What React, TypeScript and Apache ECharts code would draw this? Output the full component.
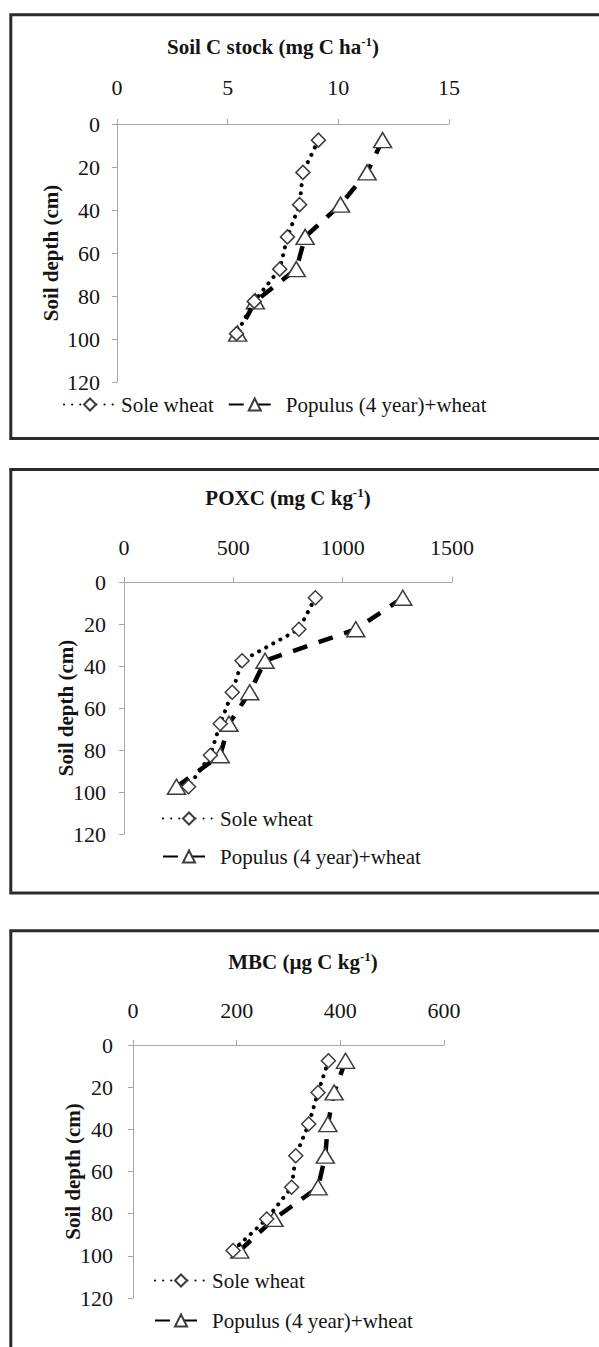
import React, { useEffect, useRef } from "react";
import * as echarts from "echarts";

// Depth midpoints (cm)
const depths = [7.5, 22.5, 37.5, 52.5, 67.5, 82.5, 97.5];
const depthTicks = [0, 20, 40, 60, 80, 100, 120];

// Panel 1: Soil C stock (mg C ha-1)
const soleStock = [9.1, 8.4, 8.25, 7.7, 7.35, 6.2, 5.4];
const popStock = [12.0, 11.3, 10.1, 8.5, 8.1, 6.25, 5.45];
const stockTicks = [0, 5, 10, 15];

// Panel 2: POXC (mg C kg-1)
const solePOXC = [875, 800, 540, 495, 440, 395, 295];
const popPOXC = [1275, 1060, 645, 575, 480, 440, 240];
const poxcTicks = [0, 500, 1000, 1500];

// Panel 3: MBC (µg C kg-1)
const soleMBC = [377, 357, 339, 314, 306, 258, 193];
const popMBC = [410, 388, 376, 371, 357, 272, 206];
const mbcTicks = [0, 200, 400, 600];

const seriesNames = ["Sole wheat", "Populus (4 year)+wheat"];

const FONT = "Liberation Serif";
const AXIS_GRAY = "#a6a6a6";
const TXT = "#141414";

const pairs = (xs: number[]) => xs.map((v, i) => [v, depths[i]]);

export default function App() {
  const ref = useRef<HTMLDivElement>(null);
  useEffect(() => {
    document.body.style.margin = "0";
    if (!ref.current) return;
    const chart = echarts.init(ref.current, undefined, { renderer: "svg" });

    const grids = [
      { left: 117, top: 124, width: 332, height: 258 },
      { left: 124, top: 582, width: 328, height: 252 },
      { left: 133, top: 1045, width: 311, height: 253 },
    ];
    const xTicks = [stockTicks, poxcTicks, mbcTicks];
    const yLabelMargins = [17, 18, 20];
    const nameGaps = [56, 48, 50];
    const xLabelMargins = [26, 24, 24];

    const labelText = { fontFamily: FONT, fontSize: 22, color: TXT, fontWeight: "normal" };

    const xAxes = xTicks.map((t, i) => ({
      type: "value",
      gridIndex: i,
      position: "top",
      min: t[0],
      max: t[t.length - 1],
      interval: t[1] - t[0],
      axisLine: { show: true, lineStyle: { color: AXIS_GRAY, width: 1 } },
      axisTick: { show: true, inside: false, length: 5, lineStyle: { color: AXIS_GRAY } },
      splitLine: { show: false },
      axisLabel: { margin: xLabelMargins[i], ...labelText, formatter: (v: number) => String(v) },
    }));

    const yAxes = [0, 1, 2].map((i) => ({
      type: "value",
      gridIndex: i,
      inverse: true,
      min: depthTicks[0],
      max: depthTicks[depthTicks.length - 1],
      interval: depthTicks[1] - depthTicks[0],
      name: "Soil depth (cm)",
      nameLocation: "middle",
      nameRotate: 90,
      nameGap: nameGaps[i],
      nameMoveOverlap: false,
      nameTextStyle: { fontFamily: FONT, fontSize: 21, fontWeight: "bold", color: TXT },
      axisLine: { show: true, lineStyle: { color: AXIS_GRAY, width: 1 } },
      axisTick: { show: true, inside: false, length: 5, lineStyle: { color: AXIS_GRAY } },
      splitLine: { show: false },
      axisLabel: { margin: yLabelMargins[i], ...labelText, formatter: (v: number) => String(v) },
    }));

    const soleStyle = {
      type: "line",
      name: seriesNames[0],
      symbol: "diamond",
      symbolSize: 14,
      lineStyle: { color: "#000", width: 4, type: [0.1, 8], cap: "round" },
      itemStyle: { color: "#fff", borderColor: "#3c3c3c", borderWidth: 1.5 },
      z: 3,
    };
    const popStyle = {
      type: "line",
      name: seriesNames[1],
      symbol: "triangle",
      symbolSize: [18, 15],
      lineStyle: { color: "#000", width: 4.5, type: [15, 12], cap: "butt" },
      itemStyle: { color: "#fff", borderColor: "#3c3c3c", borderWidth: 1.5 },
      z: 2,
    };
    const soles = [soleStock, solePOXC, soleMBC];
    const pops = [popStock, popPOXC, popMBC];
    const series: any[] = [];
    [0, 1, 2].forEach((i) => {
      series.push({ ...soleStyle, xAxisIndex: i, yAxisIndex: i, data: pairs(soles[i]) });
      series.push({ ...popStyle, xAxisIndex: i, yAxisIndex: i, data: pairs(pops[i]) });
    });

    const titleRich = {
      sup: { fontFamily: FONT, fontSize: 13, fontWeight: "bold", color: TXT, verticalAlign: "top", lineHeight: 24 },
    };
    const mkTitle = (text: string, cx: number, cy: number) => ({
      text,
      left: cx,
      top: cy - 12,
      textAlign: "center",
      padding: 0,
      textStyle: { fontFamily: FONT, fontSize: 21, fontWeight: "bold", color: TXT, lineHeight: 24, rich: titleRich },
    });

    const legendCommon = {
      data: seriesNames,
      itemWidth: 52,
      itemHeight: 15,
      textStyle: { ...labelText, fontSize: 21, padding: [2, 0, 0, 0] },
      selectedMode: false,
      padding: 0,
    };

    const border = (y1: number, y2: number) => ({
      type: "polyline",
      shape: { points: [[700, y1], [10.8, y1], [10.8, y2], [700, y2]] },
      style: { stroke: "#2b2b2b", lineWidth: 3, fill: null },
      silent: true,
    });

    chart.setOption({
      animation: false,
      backgroundColor: "#fff",
      textStyle: { fontFamily: FONT },
      title: [
        mkTitle("Soil C stock (mg C ha{sup|-1})", 273, 47),
        mkTitle("POXC (mg C kg{sup|-1})", 288, 498),
        mkTitle("MBC (µg C kg{sup|-1})", 303, 962),
      ],
      grid: grids,
      xAxis: xAxes,
      yAxis: yAxes,
      legend: [
        { ...legendCommon, orient: "horizontal", left: 63, top: 394, itemGap: 14 },
        { ...legendCommon, orient: "vertical", left: 162, top: 808, itemGap: 17 },
        { ...legendCommon, orient: "vertical", left: 154, top: 1270, itemGap: 19 },
      ],
      series,
      graphic: [border(14.7, 438.5), border(469.5, 893), border(930.8, 1400)],
    });
    return () => chart.dispose();
  }, []);
  return <div ref={ref} style={{ width: 599, height: 1347 }} />;
}
